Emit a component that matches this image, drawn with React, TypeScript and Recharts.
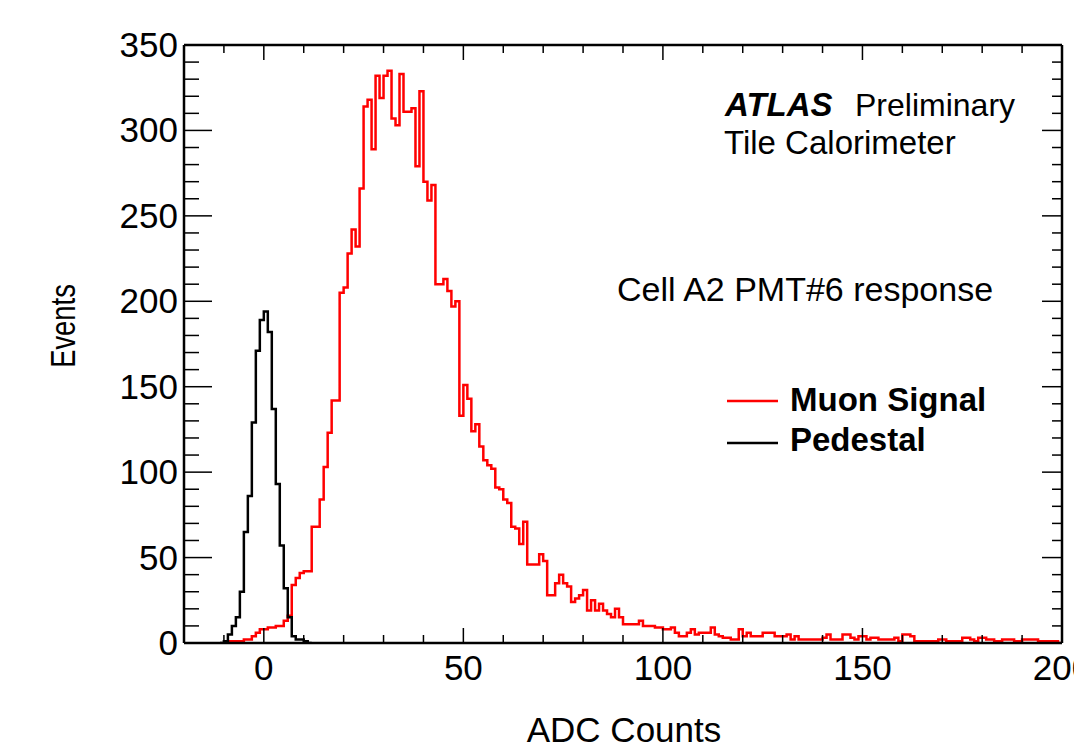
import { LineChart, Line, XAxis, YAxis, Legend } from "recharts";

// ADC histogram, 1 count per bin. First entry is the bin starting at *Start.
const muonStart = -10;
const muonCounts = [
    0, 1, 1, 1, 1, 2, 2, 4, 6, 8,
    8, 9, 9, 10, 10, 13, 16, 34, 38, 41,
    42, 42, 68, 68, 84, 103, 123, 142, 142, 205,
    208, 228, 242, 232, 266, 314, 318, 289, 332, 319,
    332, 335, 307, 303, 333, 311, 311, 313, 279, 323,
    270, 259, 268, 210, 210, 213, 206, 197, 200, 133,
    151, 143, 124, 128, 115, 107, 104, 102, 91, 90,
    84, 82, 68, 67, 58, 71, 46, 46, 46, 52,
    48, 28, 28, 35, 40, 35, 33, 24, 26, 28,
    31, 19, 25, 19, 23, 19, 17, 15, 20, 15,
    11, 11, 11, 11, 13, 10, 10, 10, 9, 9,
    8, 8, 9, 6, 4, 4, 6, 8, 5, 6,
    6, 6, 9, 5, 4, 3, 3, 2, 2, 8,
    4, 6, 4, 4, 4, 6, 6, 6, 4, 4,
    4, 5, 2, 4, 2, 2, 2, 2, 2, 2,
    3, 5, 2, 2, 2, 5, 5, 3, 2, 4,
    4, 2, 3, 3, 2, 2, 2, 2, 3, 1,
    5, 5, 4, 1, 1, 1, 1, 1, 1, 2,
    2, 1, 1, 1, 1, 3, 3, 2, 1, 3,
    3, 2, 2, 1, 1, 2, 2, 2, 1, 1,
    2, 2, 2, 2, 1, 1, 1, 1, 1, 0,
];

const pedestalStart = -11;
const pedestalCounts = [
    0, 1, 5, 10, 15, 30, 65, 86, 129, 171, 189, 194, 182, 137, 93, 57, 32, 15, 4, 2, 2, 1, 0,
];

const xTickValues = [-10, 0, 10, 20, 30, 40, 50, 60, 70, 80, 90, 100, 110, 120, 130, 140, 150, 160, 170, 180, 190, 200];
const xLabelValues = [0, 50, 100, 150, 200];
const yTickValues = [0, 10, 20, 30, 40, 50, 60, 70, 80, 90, 100, 110, 120, 130, 140, 150, 160, 170, 180, 190, 200, 210, 220, 230, 240, 250, 260, 270, 280, 290, 300, 310, 320, 330, 340, 350];
const yLabelValues = [0, 50, 100, 150, 200, 250, 300, 350];

const FONT = "'Liberation Sans', Arial, Helvetica, sans-serif";

function toSteps(start: number, counts: number[]) {
    const pts = counts.map((c, i) => ({ x: start + i, y: c }));
    pts.push({ x: start + counts.length, y: 0 });
    return pts;
}

const muonData = toSteps(muonStart, muonCounts);
const pedestalData = toSteps(pedestalStart, pedestalCounts);

const BottomTick = (props: any) => {
    const { x, y, payload } = props;
    const major = xLabelValues.includes(payload.value);
    return (
        <g>
            <line x1={x} x2={x} y1={y} y2={y - (major ? 15 : 8)} stroke="#000" strokeWidth={1.5} />
            {major && (
                <text x={x} y={y + 37} textAnchor="middle" fontSize={35} fontFamily={FONT} fill="#000">
                    {payload.value}
                </text>
            )}
        </g>
    );
};

const TopTick = (props: any) => {
    const { x, y, payload } = props;
    const major = xLabelValues.includes(payload.value);
    return <line x1={x} x2={x} y1={y} y2={y + (major ? 15 : 8)} stroke="#000" strokeWidth={1.5} />;
};

const LeftTick = (props: any) => {
    const { x, y, payload } = props;
    const major = yLabelValues.includes(payload.value);
    return (
        <g>
            <line x1={x} x2={x + (major ? 28 : 15)} y1={y} y2={y} stroke="#000" strokeWidth={1.5} />
            {major && (
                <text x={x - 6} y={y + 12} textAnchor="end" fontSize={35} fontFamily={FONT} fill="#000">
                    {payload.value}
                </text>
            )}
        </g>
    );
};

const RightTick = (props: any) => {
    const { x, y, payload } = props;
    const major = yLabelValues.includes(payload.value);
    return <line x1={x} x2={x - (major ? 20 : 10)} y1={y} y2={y} stroke="#000" strokeWidth={1.5} />;
};

const LegendBox = () => (
    <svg width={320} height={100}>
        <line x1={7} x2={58} y1={31} y2={31} stroke="#ff0000" strokeWidth={2.5} />
        <text x={70} y={41} fontSize={33} fontWeight="bold" fontFamily={FONT} fill="#000">
            Muon Signal
        </text>
        <line x1={7} x2={58} y1={73} y2={73} stroke="#000" strokeWidth={2.5} />
        <text x={70} y={81} fontSize={33} fontWeight="bold" fontFamily={FONT} fill="#000">
            Pedestal
        </text>
    </svg>
);

export default function App() {
    const frame = { stroke: "#000", strokeWidth: 2.5 };
    return (
        <div style={{ position: "absolute", left: 0, top: 0, width: 1074, height: 754, background: "#fff" }}>
            <LineChart width={1074} height={754} margin={{ top: 44, right: 11, bottom: 0, left: 0 }}>
                {/* mirrored frame axes (top / right), used by the pedestal series */}
                <XAxis
                    xAxisId="top"
                    orientation="top"
                    type="number"
                    dataKey="x"
                    domain={[-20, 200]}
                    allowDataOverflow
                    ticks={xTickValues}
                    interval={0}
                    height={1}
                    tickSize={0}
                    tickMargin={0}
                    tickLine={false}
                    axisLine={frame}
                    tick={(p: any) => <TopTick {...p} />}
                />
                <YAxis
                    yAxisId="right"
                    orientation="right"
                    type="number"
                    domain={[0, 350]}
                    allowDataOverflow
                    ticks={yTickValues}
                    interval={0}
                    width={1}
                    tickSize={0}
                    tickMargin={0}
                    tickLine={false}
                    axisLine={frame}
                    tick={(p: any) => <RightTick {...p} />}
                />
                <XAxis
                    type="number"
                    dataKey="x"
                    domain={[-20, 200]}
                    allowDataOverflow
                    ticks={xTickValues}
                    interval={0}
                    height={111}
                    tickSize={0}
                    tickMargin={0}
                    tickLine={false}
                    axisLine={frame}
                    tick={(p: any) => <BottomTick {...p} />}
                />
                <YAxis
                    type="number"
                    domain={[0, 350]}
                    allowDataOverflow
                    ticks={yTickValues}
                    interval={0}
                    width={184}
                    tickSize={0}
                    tickMargin={0}
                    tickLine={false}
                    axisLine={frame}
                    tick={(p: any) => <LeftTick {...p} />}
                />
                <Legend
                    layout="vertical"
                    align="center"
                    verticalAlign="middle"
                    content={() => <LegendBox />}
                    wrapperStyle={{ position: "absolute", left: 720, top: 370, width: 320 }}
                />
                <Line
                    data={muonData}
                    dataKey="y"
                    name="Muon Signal"
                    type="stepAfter"
                    stroke="#ff0000"
                    strokeWidth={2.5}
                    dot={false}
                    isAnimationActive={false}
                />
                <Line
                    data={pedestalData}
                    dataKey="y"
                    name="Pedestal"
                    xAxisId="top"
                    yAxisId="right"
                    type="stepAfter"
                    stroke="#000"
                    strokeWidth={2.5}
                    dot={false}
                    isAnimationActive={false}
                />
            </LineChart>

            {/* Annotations */}
            <svg
                width={1074}
                height={754}
                style={{ position: "absolute", left: 0, top: 0, pointerEvents: "none" }}
                fontFamily={FONT}
                fill="#000"
            >
                <text x={725} y={116} fontSize={33} fontWeight="bold" fontStyle="italic">ATLAS</text>
                <text x={855} y={116} fontSize={32}>Preliminary</text>
                <text x={724} y={154} fontSize={33}>Tile Calorimeter</text>
                <text x={617} y={301} fontSize={34}>Cell A2 PMT#6 response</text>
                <text x={624} y={742} fontSize={35} textAnchor="middle">ADC Counts</text>
                <text transform="translate(75,326) rotate(-90) scale(0.76,1)" fontSize={36} textAnchor="middle">
                    Events
                </text>
            </svg>
        </div>
    );
}
